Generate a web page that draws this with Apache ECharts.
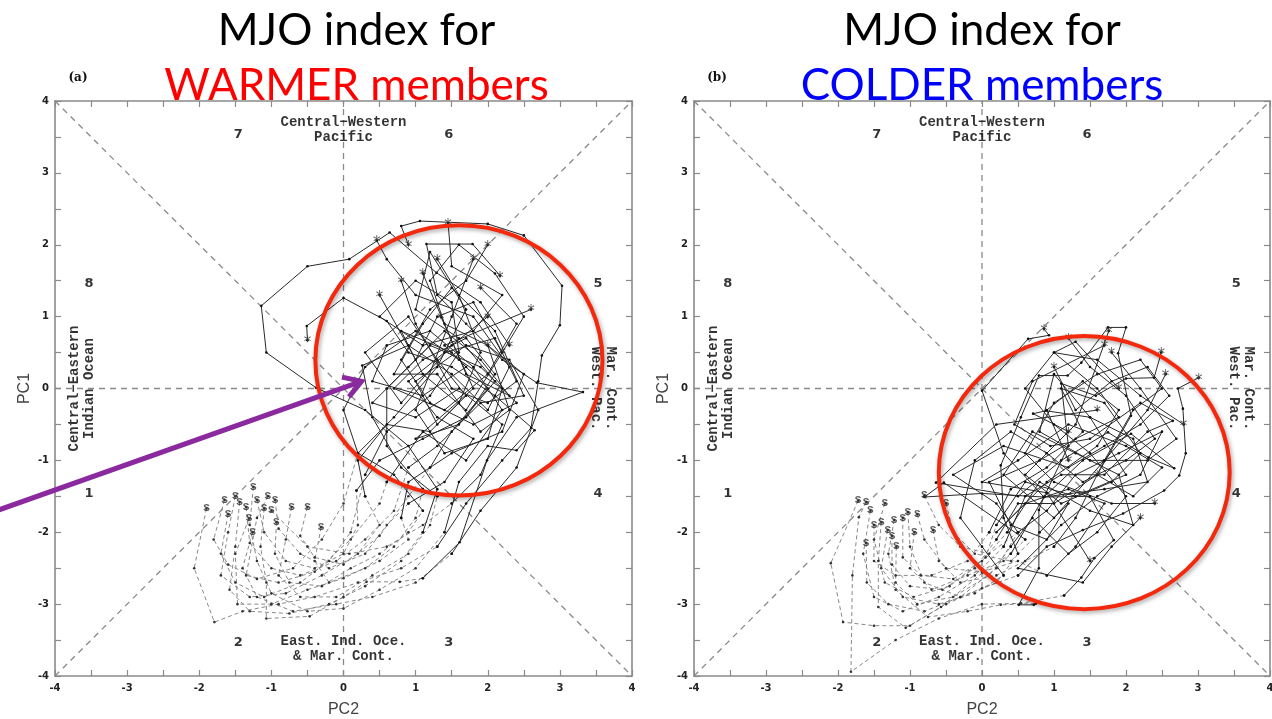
<!DOCTYPE html>
<html><head><meta charset="utf-8">
<script src="https://cdn.jsdelivr.net/npm/echarts@6/dist/echarts.min.js"></script>
<style>html,body{margin:0;padding:0;background:#fff}#c{width:1272px;height:719px}</style>
</head><body><div id="c"></div><script>
// ---- data (PC2 = x, PC1 = y) ----
const warmDashed = [
 [[-1.9,-1.67],[-2.07,-2.5],[-1.79,-3.25],[-1.4,-3.1],[-0.9,-3.0],[-0.4,-2.9],[0.2,-2.7],[0.8,-2.5],[1.3,-2.2]],
 [[-1.44,-1.58],[-1.5,-2.2],[-1.58,-2.8],[-1.3,-3.1],[-0.75,-3.13],[-0.2,-3.0],[0.3,-2.75],[0.8,-2.4],[1.1,-2.0]],
 [[-1.25,-1.37],[-1.3,-1.9],[-1.2,-2.4],[-1.0,-2.85],[-0.5,-3.1],[0.0,-3.06],[0.5,-2.8],[1.0,-2.5],[1.4,-2.0]],
 [[-1.1,-1.67],[-1.15,-2.2],[-1.07,-2.7],[-1.07,-3.2],[-0.47,-3.17],[0.0,-2.9],[0.32,-2.69],[0.78,-2.69],[1.1,-2.64]],
 [[-0.72,-1.65],[-0.8,-2.1],[-0.9,-2.6],[-0.6,-2.9],[-0.1,-2.9],[0.4,-2.6],[0.9,-2.3],[1.2,-1.9],[1.3,-1.5]],
 [[-1.31,-1.81],[-1.5,-2.3],[-1.47,-3.0],[-1.0,-3.0],[-0.5,-2.8],[0.0,-2.64],[0.5,-2.4],[0.9,-2.1],[0.8,-1.8]],
 [[-0.93,-1.86],[-0.95,-2.3],[-0.75,-2.7],[-0.3,-2.75],[0.1,-2.5],[0.5,-2.3],[0.9,-2.0],[1.1,-1.7]],
 [[-1.26,-2.0],[-1.4,-2.5],[-1.2,-2.9],[-0.7,-3.1],[-0.1,-3.0],[0.4,-2.9],[1.0,-2.7],[1.5,-2.3]],
 [[-0.31,-1.93],[-0.4,-2.4],[-0.2,-2.7],[0.3,-2.5],[0.7,-2.2],[1.0,-1.8],[1.1,-1.4]],
 [[-1.5,-1.5],[-1.6,-2.0],[-1.7,-2.6],[-1.3,-2.9],[-0.8,-2.85],[-0.3,-2.6],[0.2,-2.3],[0.5,-1.9],[0.3,-1.5]],
 [[-1.2,-1.55],[-1.1,-2.0],[-0.8,-2.4],[-0.4,-2.5],[0.0,-2.3],[0.2,-1.9],[0.18,-1.42]],
 [[-1.0,-1.7],[-0.5,-2.2],[0.08,-2.3],[0.6,-2.2],[1.1,-1.9],[1.5,-1.6]],
 [[-1.6,-1.75],[-1.7,-2.3],[-1.5,-2.7],[-1.1,-2.9],[-0.6,-2.7],[-0.2,-2.4],[0.1,-2.0],[0.3,-1.2]],
 [[-0.95,-1.55],[-0.9,-1.95],[-0.6,-2.3],[-0.2,-2.5],[0.3,-2.3],[0.6,-1.9],[0.9,-1.6]],
 [[-1.35,-1.65],[-1.3,-2.15],[-1.0,-2.5],[-0.6,-2.6],[-0.1,-2.4],[0.3,-2.1],[0.7,-1.7],[0.9,-1.1]],
 [[-1.05,-1.5],[-1.2,-1.8],[-1.35,-2.6],[-0.9,-2.7],[-0.4,-2.55],[0.1,-2.1],[0.5,-1.6],[0.6,-1.3]],
 [[-1.65,-1.55],[-1.8,-2.1],[-1.6,-2.45],[-1.2,-2.65],[-0.7,-2.5],[-0.3,-2.1],[0.0,-1.6],[0.2,-0.9]],
 [[-0.5,-1.65],[-0.6,-2.05],[-0.4,-2.35],[0.0,-2.45],[0.5,-2.05],[0.9,-1.5],[1.2,-1.1]]
];
const warmSolid = [
 [[1.7,-1.6],[2.2,-1.0],[2.6,-0.55],[2.7,0.1],[2.75,0.46],[3.0,0.88],[3.03,1.43],[2.5,2.13],[2.0,2.29],[1.06,2.33],[0.8,2.26],[0.9,2.0]],
 [[1.3,-1.4],[0.9,-0.8],[0.3,-0.3],[-0.38,0.01],[-1.07,0.5],[-1.14,1.15],[-0.5,1.7],[0.08,1.8],[0.64,2.17],[1.29,1.61],[1.9,1.2],[2.3,0.6]],
 [[1.6,-1.3],[2.0,-0.8],[2.4,-0.86],[2.65,-0.58],[2.1,-0.1],[1.5,0.3],[0.9,0.5],[0.6,0.94],[0.0,1.26],[-0.51,0.87],[-0.5,0.67]],
 [[1.61,-2.14],[1.99,-1.0],[2.4,-0.4],[3.32,-0.05],[2.68,0.08],[2.2,0.4],[1.7,0.9],[1.3,1.3],[1.15,2.01],[1.79,2.01],[2.17,1.57]],
 [[0.8,-1.1],[0.4,-0.4],[0.26,0.32],[0.9,0.6],[1.5,0.2],[2.0,-0.3],[2.3,0.3],[1.8,1.0],[1.0,1.3],[0.6,1.8],[0.46,2.06]],
 [[0.9,-1.3],[1.5,-0.9],[2.2,-0.6],[2.5,0.2],[2.0,0.6],[1.4,0.9],[1.2,1.5],[1.6,2.0],[2.1,1.6],[2.5,1.0],[2.2,0.5]],
 [[0.7,-1.2],[0.2,-0.9],[0.0,-0.3],[0.3,0.3],[1.0,0.8],[1.6,0.4],[2.2,0.0],[2.0,-0.7],[1.4,-0.9],[1.0,-0.3],[1.5,1.0],[1.8,1.8]],
 [[1.9,-1.7],[2.4,-1.1],[2.7,-0.3],[2.3,0.4],[1.7,0.6],[1.0,0.1],[1.3,-0.5],[1.6,-0.2],[1.9,0.5],[1.6,1.3],[1.3,1.8]],
 [[0.6,-0.8],[0.6,0.0],[1.2,0.6],[1.9,0.3],[2.4,-0.2],[1.8,-0.5],[1.2,-0.2],[0.8,0.4],[1.2,1.1],[1.7,1.5],[2.0,2.0]],
 [[0.2,-1.0],[0.6,-0.5],[1.2,-0.6],[1.7,-0.1],[1.3,0.4],[0.9,1.0],[0.3,0.5],[0.8,-0.2],[1.5,0.6],[2.0,1.0]],
 [[0.5,-1.0],[1.1,-0.7],[1.7,-0.4],[2.1,0.2],[1.7,0.7],[1.1,0.4],[0.7,0.0],[1.4,-0.3],[2.0,0.2],[2.4,0.9],[1.9,1.4]],
 [[1.9,-1.2],[2.2,-0.5],[1.6,0.0],[1.0,-0.4],[0.4,-0.2],[0.9,0.3],[1.4,0.8],[1.9,0.4],[2.3,-0.1],[1.7,0.2],[1.1,1.6]],
 [[0.6,-0.6],[1.2,-0.1],[1.6,0.5],[1.5,1.2],[1.0,1.5],[0.5,1.0],[1.1,0.6],[1.8,0.8],[2.2,1.3],[1.5,1.7],[1.45,2.3]],
 [[1.4,-1.3],[1.8,-0.7],[1.3,-0.4],[0.9,0.1],[1.4,0.5],[2.1,0.7],[2.4,0.1],[2.0,-0.2],[1.5,0.0],[1.0,0.9],[0.8,1.5]],
 [[1.3,-0.8],[1.9,-0.2],[2.5,-0.1],[2.1,0.8],[1.5,1.4],[1.1,0.9],[0.7,0.2],[1.3,0.2],[1.9,-0.6],[2.3,-0.3],[2.0,0.6]],
 [[1.1,-0.6],[1.7,-1.0],[2.2,-0.3],[1.8,0.3],[1.2,0.8],[0.6,0.6],[0.4,0.1],[1.1,-0.1],[1.7,0.3],[1.4,0.6],[2.6,1.1]],
 [[0.7,-0.4],[1.3,0.3],[1.7,1.1],[1.2,1.9],[1.0,1.1],[1.6,0.7],[2.1,0.1],[1.6,-0.5],[1.0,-0.7],[1.8,0.0],[1.35,1.0]],
 [[1.5,-0.6],[2.0,0.0],[1.5,0.5],[0.8,0.8],[1.1,0.2],[1.7,-0.3],[2.2,0.5],[1.8,1.2],[1.3,1.0],[1.0,0.4],[0.5,1.3]]
];
const coldDashed = [
 [[-1.72,-1.56],[-2.1,-2.43],[-1.93,-3.25],[-1.5,-3.3],[-1.0,-3.3],[-0.5,-3.0],[0.0,-2.78],[0.5,-2.6]],
 [[-1.61,-1.58],[-1.71,-1.79],[-1.8,-2.6],[-1.82,-3.94],[-1.2,-3.5],[-0.6,-3.2],[0.0,-3.0],[0.54,-2.99],[1.14,-2.88]],
 [[-1.4,-1.86],[-1.44,-2.4],[-1.44,-3.04],[-1.06,-3.33],[-0.57,-3.04],[0.01,-2.56],[0.4,-2.3]],
 [[-1.22,-1.83],[-1.3,-2.3],[-1.2,-2.8],[-0.75,-3.18],[-0.2,-3.1],[0.26,-3.01],[0.75,-2.99]],
 [[-1.03,-1.72],[-1.0,-2.2],[-0.8,-2.7],[-0.3,-2.9],[0.2,-2.7],[0.5,-2.3]],
 [[-0.94,-2.0],[-1.0,-2.5],[-0.7,-2.8],[-0.2,-2.6],[0.3,-2.4],[0.6,-2.1]],
 [[-0.68,-1.97],[-0.6,-2.4],[-0.3,-2.7],[0.2,-2.6],[0.6,-2.4],[1.0,-2.2]],
 [[-1.31,-1.97],[-1.4,-2.5],[-1.1,-2.9],[-0.6,-3.0],[-0.1,-2.85],[0.3,-2.6]],
 [[-1.19,-2.2],[-1.2,-2.7],[-0.9,-3.0],[-0.4,-2.9],[0.1,-2.6],[0.4,-2.2]],
 [[-1.61,-2.15],[-1.6,-2.7],[-1.3,-3.0],[-0.8,-3.1],[-0.3,-2.9],[0.2,-2.5],[0.5,-2.0]],
 [[-0.8,-1.49],[-0.6,-1.9],[-0.3,-2.2],[0.1,-2.3],[0.5,-2.0]],
 [[-1.5,-1.9],[-1.5,-2.4],[-1.2,-2.6],[-0.7,-2.6],[-0.2,-2.4],[0.1,-2.0]],
 [[-1.55,-1.7],[-1.65,-2.3],[-1.5,-2.9],[-1.1,-3.1],[-0.6,-2.9],[-0.1,-2.6],[0.3,-2.2]],
 [[-1.1,-1.8],[-1.1,-2.35],[-0.85,-2.6],[-0.4,-2.65],[0.0,-2.4],[0.35,-2.0]],
 [[-0.9,-1.75],[-0.8,-2.1],[-0.5,-2.5],[0.0,-2.55],[0.5,-2.4],[0.9,-2.6]],
 [[-1.35,-1.6],[-1.5,-2.1],[-1.35,-2.7],[-0.95,-2.9],[-0.45,-2.75],[0.05,-2.35],[0.2,-1.9]],
 [[-1.25,-2.05],[-1.25,-2.45],[-1.0,-2.75],[-0.55,-2.8],[-0.1,-2.5],[0.2,-2.1]],
 [[-0.5,-1.6],[-0.4,-2.0],[-0.1,-2.3],[0.4,-2.4],[0.8,-2.0]]
];
const coldSolid = [
 [[0.9,-2.2],[1.4,-1.97],[1.96,-1.74],[2.53,-1.42],[2.74,-1.21],[2.83,-0.9],[2.79,-0.28],[2.72,0.0],[3.01,0.15]],
 [[1.38,-2.63],[1.56,-2.36],[1.83,-2.11],[1.5,-1.5],[0.86,-1.51],[0.3,-0.9],[0.0,-0.03],[0.64,0.69],[0.93,0.74],[0.86,0.83]],
 [[0.86,-1.51],[1.4,-1.0],[2.07,-0.63],[2.67,-1.11],[2.31,-0.96],[1.75,-0.61],[1.1,-1.0],[0.5,-1.5],[-0.64,-1.31],[0.2,-0.5],[1.6,-0.3]],
 [[0.72,-3.01],[0.51,-3.01],[0.79,-2.5],[0.79,-1.69],[0.86,-1.51],[1.2,-0.8],[1.1,0.07],[1.58,-0.1],[2.0,0.14],[2.39,0.15],[2.49,0.5]],
 [[0.3,-1.8],[0.26,-1.07],[0.54,-0.4],[0.79,0.18],[1.19,0.18],[1.38,0.36],[1.75,0.85],[2.0,0.85],[1.89,0.49],[2.07,-0.38],[1.6,-1.2]],
 [[-0.53,-1.31],[-0.8,-1.51],[0.0,-1.46],[0.86,-1.51],[1.7,-1.4],[2.3,-1.3],[2.1,-0.7],[1.5,-0.4],[0.89,-0.31],[0.71,-0.35],[1.2,-0.6]],
 [[1.3,-1.8],[1.7,-1.0],[2.1,-0.3],[2.5,0.0],[2.2,0.4],[1.6,0.2],[1.0,-0.2],[0.6,-0.9],[1.0,-1.3],[1.8,-1.6],[2.4,-1.6]],
 [[0.0,-2.2],[-0.3,-1.8],[-0.1,-1.0],[0.4,-0.6],[0.9,-0.9],[1.4,-1.3],[2.0,-1.0],[2.4,-0.7],[2.0,-0.1],[1.5,0.3],[1.2,0.7]],
 [[0.7,-1.8],[1.2,-2.3],[1.6,-2.0],[2.0,-1.5],[1.5,-0.9],[1.0,-0.5],[0.6,0.0],[1.0,0.5],[1.6,0.4],[2.2,-0.1],[2.8,-0.5]],
 [[0.2,-1.6],[-0.4,-1.2],[0.3,-0.8],[1.2,-1.1],[1.7,-0.8],[2.2,-0.5],[2.6,-0.1],[2.3,0.3],[1.8,0.1],[1.3,-0.3],[1.0,0.3]],
 [[0.9,-1.7],[1.3,-1.2],[1.9,-0.9],[2.5,-0.6],[2.2,-1.2],[1.6,-1.5],[1.1,-1.9],[0.5,-2.5],[1.4,-2.7],[1.8,-2.2],[2.2,-1.8]],
 [[0.4,-1.4],[0.9,-1.1],[1.4,-0.6],[1.1,0.0],[1.7,-0.2],[2.2,-0.9],[1.8,-1.3],[1.1,-1.6],[0.6,-1.2],[1.3,-0.5],[1.76,0.8]],
 [[0.6,-1.5],[1.1,-1.2],[1.7,-1.2],[2.3,-0.6],[2.65,-0.45],[2.2,-0.2],[1.5,-0.7],[0.95,-0.8],[0.45,-0.5],[0.7,0.1],[1.7,0.6]],
 [[0.8,-1.3],[1.5,-1.7],[2.1,-1.9],[1.9,-1.2],[1.3,-0.9],[0.7,-0.6],[0.3,-1.2],[1.0,-1.8],[1.7,-1.0],[2.3,-0.3],[2.55,0.2]],
 [[1.3,-2.2],[1.7,-1.6],[1.2,-1.4],[0.6,-1.6],[0.2,-2.0],[0.9,-1.3],[1.6,-0.8],[1.9,-0.3],[1.4,0.1],[0.9,-0.3],[1.2,-1.0]],
 [[0.6,-1.3],[1.3,-1.5],[2.0,-1.2],[1.5,-0.4],[1.0,0.2],[0.8,-0.6],[1.5,-1.0],[2.3,-1.0],[2.7,-0.7],[2.2,0.0],[1.8,0.5]],
 [[0.5,-1.6],[1.0,-1.6],[1.6,-1.2],[2.1,-1.5],[2.5,-1.1],[2.0,-0.8],[1.2,-0.5],[0.5,-1.0],[0.0,-1.3],[0.9,-1.45],[1.5,-2.4]],
 [[1.2,-1.6],[0.9,-2.1],[0.4,-1.9],[0.1,-1.3],[0.8,-1.0],[1.3,-0.7],[1.9,-0.4],[1.6,0.0],[1.0,0.5],[1.3,0.65],[1.9,0.0]]
];
const phaseNumbers = ['1','2','3','4','5','6','7','8'];
const phasePos = [[-3.53,-1.46],[-1.46,-3.53],[1.46,-3.53],[3.53,-1.46],[3.53,1.46],[1.46,3.53],[-1.46,3.53],[-3.53,1.46]];
const regionNames = ['Central\u2212Western\nPacific','East. Ind. Oce.\n& Mar. Cont.','Central\u2212Eastern\nIndian Ocean','Mar. Cont.\nWest. Pac.'];
const regionPos = [[0,3.6],[0,-3.63],[-3.63,0],[3.6,0]];
const regionRotate = [0,0,90,-90];
const guideLines = [[[-4,-4],[4,4]],[[-4,4],[4,-4]],[[-4,0],[4,0]],[[0,-4],[0,4]]];
const panelTitles = ['MJO index for','MJO index for'];
const panelSubtitles = ['WARMER members','COLDER members'];
const panelTags = ['(a)','(b)'];
const titleShiftPC2 = [0.18,0];
const circleCenters = [[1.6,0.39],[1.42,-1.17]];
const circleRadii = [[1.99,1.88],[2.02,1.9]];
const arrowFrom = [-4.78,-1.69];
const arrowTo = [0.25,0.1];

// ---- chart ----
const chart = echarts.init(document.getElementById('c'), null, {renderer:'canvas'});
const grids = [{left:55,top:101,width:577,height:575,outerBoundsMode:'none',containLabel:false},
               {left:694,top:101,width:576,height:575,outerBoundsMode:'none',containLabel:false}];
const axBase = {type:'value',min:-4,max:4,interval:1,
  axisLine:{onZero:false,lineStyle:{color:'#8a8a8a',width:1.6}},
  axisTick:{inside:true,length:6,lineStyle:{color:'#8a8a8a',width:1.2}},
  minorTick:{show:true,splitNumber:2,length:6,lineStyle:{color:'#8a8a8a',width:1.2}},
  splitLine:{show:false},minorSplitLine:{show:false}};
const lblStyle = {fontSize:10,fontWeight:'bold',color:'#222',fontFamily:'DejaVu Sans',showMinLabel:true,showMaxLabel:true};
const xAxes=[], yAxes=[];
[0,1].forEach(g=>{
  xAxes.push(Object.assign({},axBase,{gridIndex:g,position:'bottom',axisLabel:Object.assign({margin:7},lblStyle),
    name:'PC2',nameLocation:'middle',nameGap:26,nameTextStyle:{fontSize:16,color:'#444',fontFamily:'Liberation Sans'}}));
  xAxes.push(Object.assign({},axBase,{gridIndex:g,position:'top',axisLabel:{show:false}}));
  yAxes.push(Object.assign({},axBase,{gridIndex:g,position:'left',axisLabel:Object.assign({margin:6},lblStyle),
    name:'PC1',nameLocation:'middle',nameGap:22,nameTextStyle:{fontSize:16,color:'#444',fontFamily:'Liberation Sans'}}));
  yAxes.push(Object.assign({},axBase,{gridIndex:g,position:'right',axisLabel:{show:false}}));
});
const series=[];
function panel(g, dashed, solid){
  const ax={xAxisIndex:g*2,yAxisIndex:g*2,silent:true,animation:false};
  guideLines.forEach(l=>series.push(Object.assign({type:'line',data:l,symbol:'none',
    lineStyle:{color:'#8a8a8a',width:1.3,type:[6,5]},z:1},ax)));
  dashed.forEach((d,i)=>{
    series.push(Object.assign({type:'line',data:d,symbol:'circle',symbolSize:2.6,itemStyle:{color:'#333'},
      lineStyle:{color:'#7a7a7a',width:0.9,type:[4,3]},z:3},ax));
    series.push(Object.assign({type:'line',data:[d[d.length-1]].concat(solid[i]),symbol:'circle',symbolSize:2.6,
      itemStyle:{color:'#111'},lineStyle:{color:'#2a2a2a',width:1},z:4},ax));
  });
  series.push(Object.assign({type:'scatter',data:dashed.map(d=>d[0]),symbolSize:1,itemStyle:{color:'rgba(0,0,0,0)'},
    label:{show:true,position:'inside',formatter:'S',fontFamily:'Liberation Mono',fontWeight:'bold',fontSize:11,color:'#333'},z:5},ax));
  series.push(Object.assign({type:'scatter',data:solid.map(s=>s[s.length-1]),symbolSize:1,itemStyle:{color:'rgba(0,0,0,0)'},
    label:{show:true,position:'inside',formatter:'*',fontFamily:'DejaVu Sans',fontSize:15,color:'#333',offset:[0,3]},z:5},ax));
  series.push(Object.assign({type:'scatter',symbolSize:1,itemStyle:{color:'rgba(0,0,0,0)'},
    data:phasePos.map((p,i)=>({value:p,label:{formatter:phaseNumbers[i]}})),
    label:{show:true,position:'inside',fontFamily:'DejaVu Sans',fontWeight:'bold',fontSize:13,color:'#000'},z:5},ax));
  series.push(Object.assign({type:'scatter',symbolSize:1,itemStyle:{color:'rgba(0,0,0,0)'},
    data:regionPos.map((p,i)=>({value:p,label:{formatter:regionNames[i],rotate:regionRotate[i]}})),
    label:{show:true,position:'inside',fontFamily:'Liberation Mono',fontWeight:'bold',fontSize:14,lineHeight:15,color:'#000',align:'center',verticalAlign:'middle'},z:5},ax));
}
panel(0,warmDashed,warmSolid);
panel(1,coldDashed,coldSolid);
chart.setOption({backgroundColor:'#fff',animation:false,grid:grids,xAxis:xAxes,yAxis:yAxes,series:series});

// ---- annotations (placed from data coordinates) ----
const gfx=[];
const subColors=['#ff0000','#0000ff'];
[0,1].forEach(g=>{
  const c0 = chart.convertToPixel({gridIndex:g},[titleShiftPC2[g],4]);
  gfx.push({type:'text',x:c0[0],y:31,style:{text:panelTitles[g],font:'44px Lato',fill:'#000',align:'center',verticalAlign:'middle'},z:50});
  gfx.push({type:'text',x:c0[0],y:86,style:{text:panelSubtitles[g],font:'44px Lato',fill:subColors[g],align:'center',verticalAlign:'middle'},z:50});
  const tl = chart.convertToPixel({gridIndex:g},[-4,4]);
  gfx.push({type:'text',x:tl[0]+23,y:78,style:{text:panelTags[g],font:'bold 12px "DejaVu Serif"',fill:'#111',align:'center',verticalAlign:'middle'},z:50});
  const cc = chart.convertToPixel({gridIndex:g},circleCenters[g]);
  const ce = chart.convertToPixel({gridIndex:g},[circleCenters[g][0]+circleRadii[g][0],circleCenters[g][1]+circleRadii[g][1]]);
  gfx.push({type:'ellipse',shape:{cx:cc[0],cy:cc[1],rx:Math.abs(ce[0]-cc[0]),ry:Math.abs(ce[1]-cc[1])},
    style:{fill:null,stroke:'#f4280c',lineWidth:4,shadowBlur:4,shadowColor:'rgba(0,0,0,0.35)',shadowOffsetX:1.5,shadowOffsetY:2},z:60});
});
const a0 = chart.convertToPixel({gridIndex:0},arrowFrom);
const a1 = chart.convertToPixel({gridIndex:0},arrowTo);
const ang = Math.atan2(a1[1]-a0[1],a1[0]-a0[0]);
const hl = 20, ha = 0.55;
const b1=[a1[0]-hl*Math.cos(ang-ha),a1[1]-hl*Math.sin(ang-ha)];
const b2=[a1[0]-hl*Math.cos(ang+ha),a1[1]-hl*Math.sin(ang+ha)];
gfx.push({type:'line',shape:{x1:a0[0],y1:a0[1],x2:a1[0]-3*Math.cos(ang),y2:a1[1]-3*Math.sin(ang)},style:{stroke:'#8a2a9e',lineWidth:5},z:70});
gfx.push({type:'polyline',shape:{points:[b1,a1,b2]},style:{stroke:'#8a2a9e',lineWidth:5,fill:null,lineJoin:'miter'},z:70});
chart.setOption({graphic:gfx});
</script></body></html>
